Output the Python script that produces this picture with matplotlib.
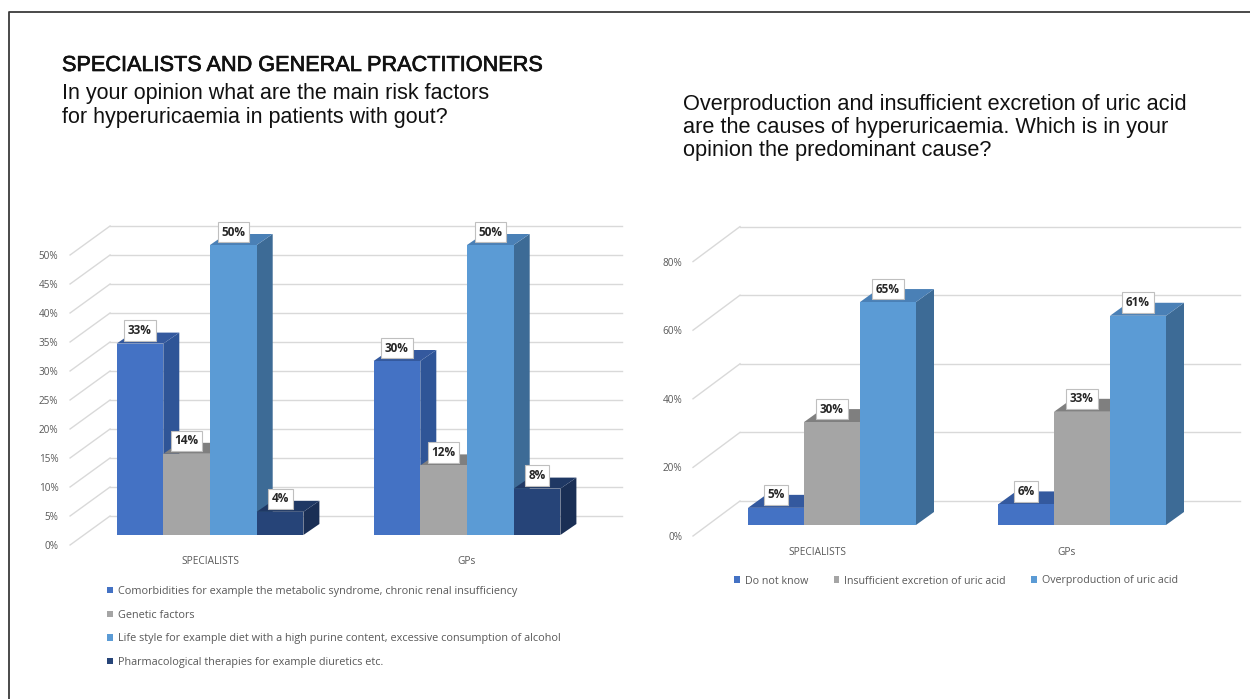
import numpy as np
import matplotlib.pyplot as plt
from matplotlib.patches import Polygon
from matplotlib.lines import Line2D
import matplotlib.patheffects as pe

W, H = 1250, 699

groups = ['SPECIALISTS', 'GPs']

# grafico izquierdo: factores de riesgo
risk_labels = ['Comorbidities for example the metabolic syndrome, chronic renal insufficiency',
               'Genetic factors',
               'Life style for example diet with a high purine content, excessive consumption of alcohol',
               'Pharmacological therapies for example diuretics etc.']
risk_specialists = [33, 14, 50, 4]
risk_gps = [30, 12, 50, 8]
risk_ticks = [0, 5, 10, 15, 20, 25, 30, 35, 40, 45, 50]

# grafico derecho: causa predominante
cause_labels = ['Do not know', 'Insufficient excretion of uric acid', 'Overproduction of uric acid']
cause_specialists = [5, 30, 65]
cause_gps = [6, 33, 61]
cause_ticks = [0, 20, 40, 60, 80]

front = ['#4472C4', '#A5A5A5', '#5B9BD5', '#264478']
side = ['#2F5597', '#888888', '#3D6B96', '#1A2F55']
top = ['#34599E', '#7F7F7F', '#4A80B6', '#1F3864']
grid_c = '#D9D9D9'
txt_c = '#595959'
FONT = 'Open Sans'

fig = plt.figure(figsize=(W / 100, H / 100), dpi=100)


def place(origin, sx, sy, xlim, ylim):
    # coloca los ejes para que (0,0) caiga en el pixel origin
    left = origin[0] + xlim[0] * sx
    right = origin[0] + xlim[1] * sx
    top_px = origin[1] - ylim[1] * sy
    bot_px = origin[1] - ylim[0] * sy
    ax = fig.add_axes([left / W, 1 - bot_px / H, (right - left) / W, (bot_px - top_px) / H])
    ax.set_xlim(xlim)
    ax.set_ylim(ylim)
    return ax


def chart(ax, spec, gps, ticks, width, off, depth, back, lift, pad):
    xlim = ax.get_xlim()
    # pared del fondo y lineas del piso lateral
    for t in ticks:
        ax.plot([xlim[0] + back[0], xlim[1] + back[0]], [t + back[1]] * 2,
                color=grid_c, lw=1, zorder=1, clip_on=False)
        ax.plot([xlim[0], xlim[0] + back[0]], [t, t + back[1]],
                color=grid_c, lw=1, zorder=1, clip_on=False)
    n = len(spec)
    x = np.arange(len(groups))
    bars = []
    for i in range(n):
        vals = [spec[i], gps[i]]
        xs = x + (i - n / 2) * width + off[0]
        b = ax.bar(xs, vals, width, bottom=off[1], align='edge', color=front[i],
                   zorder=2.5 + i)
        bars.append(b)
        for r, v in zip(b.patches, vals):
            x0, x1 = r.get_x(), r.get_x() + r.get_width()
            y0, y1 = r.get_y(), r.get_y() + r.get_height()
            dx, dy = depth
            ax.add_patch(Polygon([(x1, y0), (x1 + dx, y0 + dy), (x1 + dx, y1 + dy), (x1, y1)],
                                 closed=True, fc=side[i], ec='none', zorder=2 + i))
            ax.add_patch(Polygon([(x0, y1), (x1, y1), (x1 + dx, y1 + dy), (x0 + dx, y1 + dy)],
                                 closed=True, fc=top[i], ec='none', zorder=2 + i))
            ax.text((x0 + x1) / 2, y1 + lift, f'{v}%', ha='center', va='center',
                    fontsize=8.5, fontweight='bold', family=FONT, color='#262626', zorder=20,
                    bbox=dict(boxstyle='square,pad=0.32', fc='white', ec='#BFBFBF', lw=0.8))
    ax.set_yticks(ticks)
    ax.set_yticklabels([f'{t}%' for t in ticks], family=FONT, fontsize=7.2, color=txt_c)
    ax.tick_params(axis='y', length=0, pad=pad)
    ax.set_xticks([])
    for s in ax.spines.values():
        s.set_visible(False)
    ax.patch.set_alpha(0)
    return bars


# ---- izquierdo
axL = place((196, 545), 257, 5.8, (-0.49, 1.5), (-3, 58))
bL = chart(axL, risk_specialists, risk_gps, risk_ticks, 0.1817,
           (14 / 257, 10 / 5.8), (16 / 257, 11 / 5.8), (40 / 257, 29 / 5.8), 13 / 5.8, 8.4)
for g, name in enumerate(groups):
    axL.text(g + 14 / 257, -2.8, name, ha='center', va='center', fontsize=7.3,
             family=FONT, color=txt_c, clip_on=False)

# ---- derecho
axR = place((817, 536), 250, 3.43, (-0.496, 1.504), (-5, 88))
bR = chart(axR, cause_specialists, cause_gps, cause_ticks, 0.224,
           (15 / 250, 11 / 3.43), (18 / 250, 13 / 3.43), (47 / 250, 35 / 3.43), 13 / 3.43, 7.8)
for g, name in enumerate(groups):
    axR.text(g, -4.7, name, ha='center', va='center', fontsize=7.3,
             family=FONT, color=txt_c, clip_on=False)

# leyendas
fig.legend(bL, risk_labels, loc='upper left', bbox_to_anchor=(107 / W, 1 - 586 / H),
           frameon=False, prop={'family': FONT, 'size': 7.85}, labelcolor=txt_c,
           handlelength=0.55, handleheight=0.55, handletextpad=0.45, labelspacing=1.16,
           borderaxespad=0, borderpad=0)
fig.legend(bR, cause_labels, loc='center', bbox_to_anchor=(956 / W, 1 - 581 / H), ncol=3,
           frameon=False, prop={'family': FONT, 'size': 7.7}, labelcolor=txt_c,
           handlelength=0.55, handleheight=0.55, handletextpad=0.45, columnspacing=2.4,
           borderaxespad=0, borderpad=0)

# textos de cabecera
fig.text(62 / W, 1 - 71 / H, 'SPECIALISTS AND GENERAL PRACTITIONERS', fontsize=15.6,
         family='Liberation Sans', color='#111111', va='baseline',
         path_effects=[pe.withStroke(linewidth=0.5, foreground='#111111')])
sub_left = ['In your opinion what are the main risk factors',
            'for hyperuricaemia in patients with gout?']
for k, line in enumerate(sub_left):
    fig.text(62 / W, 1 - (99 + 24 * k) / H, line, fontsize=15.5,
             family='Liberation Sans', color='#111111', va='baseline')
sub_right = ['Overproduction and insufficient excretion of uric acid',
             'are the causes of hyperuricaemia. Which is in your',
             'opinion the predominant cause?']
for k, line in enumerate(sub_right):
    fig.text(683 / W, 1 - (110 + 23 * k) / H, line, fontsize=15.7,
             family='Liberation Sans', color='#111111', va='baseline')

# marco
fig.add_artist(Line2D([9 / W, 9 / W, 1], [0, 1 - 12 / H, 1 - 12 / H],
                      transform=fig.transFigure, color='#3A3A3A', lw=1.3))

fig.savefig('out.png', dpi=100)
